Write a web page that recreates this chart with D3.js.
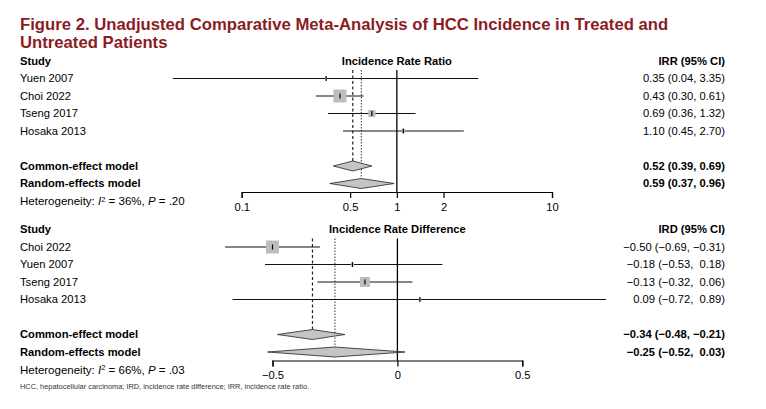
<!DOCTYPE html>
<html><head><meta charset="utf-8">
<script src="https://cdn.jsdelivr.net/npm/d3@7"></script>
<style>
body{margin:0;background:#fff;}
svg text{font-family:"Liberation Sans",Arial,sans-serif;white-space:pre;}
</style></head>
<body><div id="chart"></div>
<script>
// ---------- data ----------
const titleLines = ["Figure 2. Unadjusted Comparative Meta-Analysis of HCC Incidence in Treated and", "Untreated Patients"];
const footnote = "HCC, hepatocellular carcinoma; IRD, incidence rate difference; IRR, incidence rate ratio.";

// Panel 1: incidence rate ratio
const irrStudies = ["Yuen 2007", "Choi 2022", "Tseng 2017", "Hosaka 2013"];
const irrEst = [0.35, 0.43, 0.69, 1.10];
const irrLo = [0.036, 0.30, 0.36, 0.45];
const irrHi = [3.35, 0.61, 1.32, 2.70];
const irrWeight = [2, 71, 21, 6];
const irrLabels = ["0.35 (0.04, 3.35)", "0.43 (0.30, 0.61)", "0.69 (0.36, 1.32)", "1.10 (0.45, 2.70)"];
const irrPooled = [0.52, 0.59];
const irrPooledLo = [0.39, 0.37];
const irrPooledHi = [0.69, 0.96];
const irrPooledLabels = ["0.52 (0.39, 0.69)", "0.59 (0.37, 0.96)"];
const irrTicks = [0.1, 0.5, 1, 2, 10];
const irrTickLabels = ["0.1", "0.5", "1", "2", "10"];
const irrHet = ["36%", ".20"];

// Panel 2: incidence rate difference
const irdStudies = ["Choi 2022", "Yuen 2007", "Tseng 2017", "Hosaka 2013"];
const irdEst = [-0.50, -0.18, -0.13, 0.09];
const irdLo = [-0.69, -0.53, -0.32, -0.66];
const irdHi = [-0.31, 0.18, 0.06, 0.835];
const irdWeight = [59, 3.5, 35, 1.5];
const irdLabels = ["\u22120.50 (\u22120.69, \u22120.31)", "\u22120.18 (\u22120.53,  0.18)", "\u22120.13 (\u22120.32,  0.06)", "0.09 (\u22120.72,  0.89)"];
const irdPooled = [-0.34, -0.25];
const irdPooledLo = [-0.48, -0.52];
const irdPooledHi = [-0.21, 0.03];
const irdPooledLabels = ["\u22120.34 (\u22120.48, \u22120.21)", "\u22120.25 (\u22120.52,  0.03)"];
const irdTicks = [-0.5, 0, 0.5];
const irdTickLabels = ["\u22120.5", "0", "0.5"];
const irdHet = ["66%", ".03"];

const modelNames = ["Common-effect model", "Random-effects model"];

// ---------- layout ----------
const W = 766, H = 409;
const FONT = 11.2;
const ROW = 17.5;
const LEFT = 20, RIGHT = 725;
const titleColor = "#8b1c24";
const boxFill = "#bdbdbd";

const svg = d3.select("#chart").append("svg").attr("width", W).attr("height", H);

svg.selectAll("text.title").data(titleLines).join("text")
  .attr("class", "title")
  .attr("x", LEFT).attr("y", (d, i) => 30 + i * 18.3)
  .attr("fill", titleColor).attr("font-weight", "bold").attr("font-size", 16.7)
  .text(d => d);

const panels = [
  {y0: 61, header: "Incidence Rate Ratio", col: "IRR (95% CI)", studies: irrStudies, est: irrEst, lo: irrLo, hi: irrHi,
   w: irrWeight, labels: irrLabels, pooled: irrPooled, plo: irrPooledLo, phi: irrPooledHi, plabels: irrPooledLabels,
   ticks: irrTicks, tickLabels: irrTickLabels, het: irrHet, ref: 1, maxBox: 13,
   x: d3.scaleLog().domain([0.1, 10]).range([241.7, 552])},
  {y0: 229.5, header: "Incidence Rate Difference", col: "IRD (95% CI)", studies: irdStudies, est: irdEst, lo: irdLo, hi: irdHi,
   w: irdWeight, labels: irdLabels, pooled: irdPooled, plo: irdPooledLo, phi: irdPooledHi, plabels: irdPooledLabels,
   ticks: irdTicks, tickLabels: irdTickLabels, het: irdHet, ref: 0, maxBox: 13,
   x: d3.scaleLinear().domain([-0.5, 0.5]).range([272.5, 522.3])}
];

panels.forEach(p => {
  const g = svg.append("g");
  const x = p.x;
  const rowY = i => p.y0 + ROW * (i + 1);
  const modelY = k => p.y0 + ROW * (6 + k);
  const axisY = p.y0 + 131;
  const topY = p.y0 + 9;

  // headers
  g.append("text").attr("x", LEFT).attr("y", p.y0).attr("dy", "0.35em")
    .attr("font-size", FONT).attr("font-weight", "bold").text("Study");
  g.append("text").attr("x", x(p.ref)).attr("y", p.y0).attr("dy", "0.35em").attr("text-anchor", "middle")
    .attr("font-size", FONT).attr("font-weight", "bold").text(p.header);
  g.append("text").attr("x", RIGHT).attr("y", p.y0).attr("dy", "0.35em").attr("text-anchor", "end")
    .attr("font-size", FONT).attr("font-weight", "bold").text(p.col);

  // study names and labels
  g.selectAll("text.st").data(p.studies).join("text").attr("class", "st")
    .attr("x", LEFT).attr("y", (d, i) => rowY(i)).attr("dy", "0.35em").attr("font-size", FONT).text(d => d);
  g.selectAll("text.lab").data(p.labels).join("text").attr("class", "lab")
    .attr("x", RIGHT).attr("y", (d, i) => rowY(i)).attr("dy", "0.35em").attr("text-anchor", "end")
    .attr("font-size", FONT).text(d => d);
  g.selectAll("text.mn").data(modelNames).join("text").attr("class", "mn")
    .attr("x", LEFT).attr("y", (d, i) => modelY(i)).attr("dy", "0.35em").attr("font-size", FONT)
    .attr("font-weight", "bold").text(d => d);
  g.selectAll("text.pl").data(p.plabels).join("text").attr("class", "pl")
    .attr("x", RIGHT).attr("y", (d, i) => modelY(i)).attr("dy", "0.35em").attr("text-anchor", "end")
    .attr("font-size", FONT).attr("font-weight", "bold").text(d => d);

  // heterogeneity
  const het = g.append("text").attr("x", LEFT).attr("y", p.y0 + ROW * 8).attr("dy", "0.35em").attr("font-size", FONT + 0.3);
  het.append("tspan").text("Heterogeneity: ");
  het.append("tspan").attr("font-style", "italic").text("I");
  het.append("tspan").attr("font-size", 7.5).attr("dy", "-0.45em").text("2");
  het.append("tspan").attr("dy", "0.3em").text(" = " + p.het[0] + ", ");
  het.append("tspan").attr("font-style", "italic").text("P");
  het.append("tspan").text(" = " + p.het[1]);

  // reference line
  g.append("line").attr("x1", x(p.ref)).attr("x2", x(p.ref)).attr("y1", topY).attr("y2", axisY)
    .attr("stroke", "#000").attr("stroke-width", 1.3);

  // pooled estimate lines
  g.append("line").attr("x1", x(p.pooled[0])).attr("x2", x(p.pooled[0])).attr("y1", topY).attr("y2", modelY(0) - 5)
    .attr("stroke", "#222").attr("stroke-width", 1.2).attr("stroke-dasharray", "3,2.5");
  g.append("line").attr("x1", x(p.pooled[1])).attr("x2", x(p.pooled[1])).attr("y1", topY).attr("y2", modelY(1) - 5)
    .attr("stroke", "#333").attr("stroke-width", 1).attr("stroke-dasharray", "1.5,1.5");

  // CI lines
  const idx = d3.range(p.studies.length);
  g.selectAll("line.ci").data(idx).join("line").attr("class", "ci")
    .attr("x1", i => x(p.lo[i])).attr("x2", i => x(p.hi[i]))
    .attr("y1", i => rowY(i)).attr("y2", i => rowY(i)).attr("stroke", "#111").attr("stroke-width", 1.1);

  // boxes
  const maxW = d3.max(p.w);
  const size = d3.scaleSqrt().domain([0, maxW]).range([0, p.maxBox]);
  g.selectAll("rect.box").data(idx).join("rect").attr("class", "box")
    .attr("x", i => x(p.est[i]) - size(p.w[i]) / 2).attr("y", i => rowY(i) - size(p.w[i]) / 2)
    .attr("width", i => size(p.w[i])).attr("height", i => size(p.w[i]))
    .attr("fill", boxFill).attr("stroke", "none");
  g.selectAll("line.pt").data(idx).join("line").attr("class", "pt")
    .attr("x1", i => x(p.est[i])).attr("x2", i => x(p.est[i]))
    .attr("y1", i => rowY(i) - 2.5).attr("y2", i => rowY(i) + 2.5).attr("stroke", "#000").attr("stroke-width", 1.2);

  // diamonds
  g.selectAll("path.dia").data([0, 1]).join("path").attr("class", "dia")
    .attr("d", k => {
      const y = modelY(k);
      return `M${x(p.plo[k])},${y}L${x(p.pooled[k])},${y - 5}L${x(p.phi[k])},${y}L${x(p.pooled[k])},${y + 5}Z`;
    })
    .attr("fill", "#c4c4c4").attr("stroke", "#222").attr("stroke-width", 0.8);

  // axis
  const axis = d3.axisBottom(x).tickValues(p.ticks).tickSize(6).tickSizeOuter(6).tickPadding(5)
    .tickFormat((d, i) => p.tickLabels[i]);
  const ag = g.append("g").attr("transform", `translate(0,${axisY})`).call(axis);
  ag.selectAll("path,line").attr("stroke", "#000").attr("stroke-width", 1.2);
  ag.selectAll("text").attr("font-size", FONT).attr("font-family", "Liberation Sans, Arial, sans-serif").attr("fill", "#000");
});

svg.append("text").attr("x", LEFT).attr("y", 386.7).attr("dy", "0.35em").attr("font-size", 7.4).attr("fill", "#333")
  .text(footnote);
</script></body></html>
